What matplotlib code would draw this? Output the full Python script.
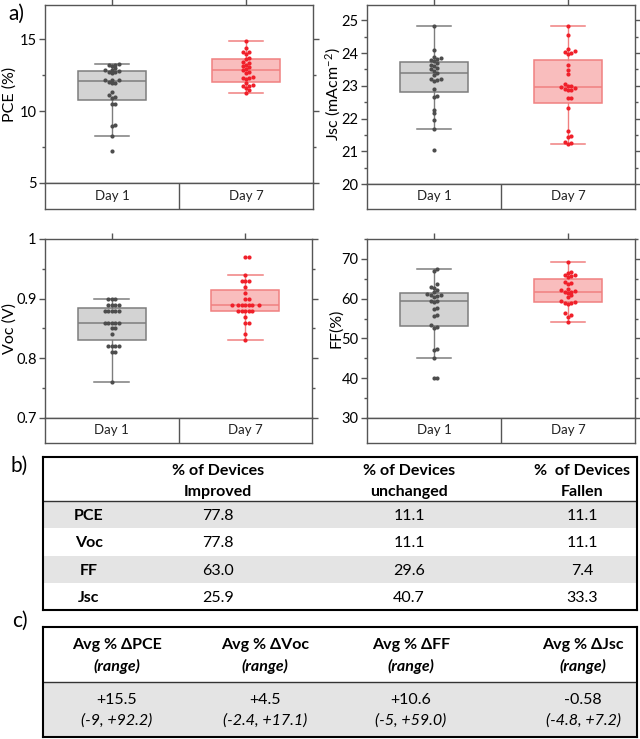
import numpy as np
import matplotlib
matplotlib.use("Agg")
import matplotlib.pyplot as plt
from matplotlib.ticker import MultipleLocator, FuncFormatter

plt.rcParams['font.family'] = ['Lato', 'DejaVu Sans']
plt.rcParams['mathtext.default'] = 'regular'

# ---- data ----
days = ["Day 1", "Day 7"]

pce_day1 = [13.3, 13.25, 13.2, 13.15, 13.0, 12.9, 12.85, 12.8, 12.75, 12.7, 12.65, 12.2, 12.2, 12.15,
            12.05, 12.0, 11.95, 11.35, 11.1, 11.0, 10.95, 10.5, 10.5, 9.05, 8.95, 8.3, 7.25]
pce_day7 = [14.88, 14.4, 14.15, 14.1, 14.0, 13.7, 13.65, 13.4, 13.35, 13.2, 13.15, 13.05, 12.95, 12.85,
            12.75, 12.65, 12.35, 12.3, 12.3, 12.25, 11.95, 11.8, 11.75, 11.75, 11.6, 11.5, 11.28]
jsc_day1 = [21.04, 21.67, 21.96, 22.16, 22.27, 22.67, 22.7, 22.9, 23.15, 23.18, 23.2, 23.22, 23.32, 23.4,
            23.46, 23.5, 23.54, 23.6, 23.64, 23.7, 23.75, 23.78, 23.82, 23.85, 23.87, 24.08, 24.84]
jsc_day7 = [21.21, 21.24, 21.28, 21.43, 21.47, 21.63, 22.32, 22.62, 22.62, 22.86, 22.88, 22.9, 22.92, 22.95,
            22.98, 23.0, 23.05, 23.37, 23.49, 23.64, 23.97, 24.0, 24.02, 24.05, 24.12, 24.54, 24.84]
voc_day1 = [0.76, 0.81, 0.81, 0.82, 0.82, 0.82, 0.82, 0.84, 0.85, 0.85, 0.86, 0.86, 0.86, 0.86,
            0.86, 0.88, 0.88, 0.88, 0.88, 0.88, 0.89, 0.89, 0.89, 0.89, 0.90, 0.90, 0.90]
voc_day7 = [0.83, 0.84, 0.86, 0.86, 0.87, 0.88, 0.88, 0.88, 0.88, 0.88, 0.89, 0.89, 0.89, 0.89,
            0.89, 0.89, 0.89, 0.90, 0.90, 0.91, 0.92, 0.93, 0.93, 0.93, 0.94, 0.97, 0.97]
ff_day1 = [40.0, 40.1, 45.0, 47.1, 47.4, 52.7, 52.9, 53.4, 55.7, 55.8, 57.5, 57.7, 59.1, 59.3,
           59.4, 60.5, 60.7, 60.9, 61.0, 61.2, 61.8, 62.2, 62.8, 63.0, 63.6, 67.0, 67.4]
ff_day7 = [54.1, 55.5, 56.0, 56.3, 58.6, 58.9, 59.0, 59.2, 59.4, 60.5, 60.9, 61.4, 61.6, 61.8,
           61.9, 62.1, 62.4, 63.6, 64.0, 64.3, 65.5, 65.6, 66.0, 66.0, 66.4, 66.6, 69.1]

# box statistics (whisker low, Q1, median, Q3, whisker high) per day
pce_box = [(8.3, 10.77, 12.09, 12.79, 13.28), (11.28, 12.07, 12.84, 13.67, 14.88)]
jsc_box = [(21.68, 22.8, 23.39, 23.73, 24.84), (21.22, 22.47, 22.95, 23.8, 24.84)]
voc_box = [(0.76, 0.83, 0.86, 0.885, 0.90), (0.83, 0.88, 0.89, 0.915, 0.94)]
ff_box = [(45.0, 53.15, 59.35, 61.45, 67.4), (54.1, 59.1, 61.8, 64.9, 69.1)]

# table b
params = ["PCE", "Voc", "FF", "Jsc"]
b_headers = [("% of Devices", "Improved"), ("% of Devices", "unchanged"), ("%  of Devices", "Fallen")]
improved = [77.8, 77.8, 63.0, 25.9]
unchanged = [11.1, 11.1, 29.6, 40.7]
fallen = [11.1, 11.1, 7.4, 33.3]

# table c
c_headers = ["Avg % \u0394PCE", "Avg % \u0394Voc", "Avg % \u0394FF", "Avg % \u0394Jsc"]
avg_change = [15.5, 4.5, 10.6, -0.58]
change_range = ["(-9, +92.2)", "(-2.4, +17.1)", "(-5, +59.0)", "(-4.8, +7.2)"]

# ---- styling ----
W, H = 640, 739
fig = plt.figure(figsize=(W / 100, H / 100), dpi=100)
spine_c = '#555555'
fills = ['#d3d3d3', '#f9bdbd']
edges = ['#7d7d7d', '#f08080']
pts_c = ['#4d4d4d', '#f0202a']


def px_axes(x0, y0, x1, y1):
    return fig.add_axes([x0 / W, 1 - y1 / H, (x1 - x0) / W, (y1 - y0) / H])


def swarm(values, ppu_y, ppu_x, d=3.4):
    placed = []
    offs = []
    for v in sorted(values):
        y = v * ppu_y
        k = 0
        found = None
        while found is None:
            cands = [0.0] if k == 0 else [k * d, -k * d]
            for c in cands:
                if all((c - px) ** 2 + (y - py) ** 2 >= d * d for px, py in placed):
                    found = c
                    break
            k += 1
        placed.append((found, y))
        offs.append(found / ppu_x)
    return np.array(sorted(values)), np.array(offs)


panels = [
    ("PCE (%)", [pce_day1, pce_day7], pce_box, (5, 17.4), 5, 2.5, (45, 5, 313, 183, 209), -0.105),
    ("Jsc (mAcm$^{-2}$)", [jsc_day1, jsc_day7], jsc_box, (20, 25.47), 1, 0.5, (367, 5, 635, 184, 209), -0.09),
    ("Voc (V)", [voc_day1, voc_day7], voc_box, (0.7, 1.0), 0.1, 0.05, (45, 239, 312, 418, 443), -0.105),
    ("FF(%)", [ff_day1, ff_day7], ff_box, (30, 75), 10, 5, (367, 239, 635, 418, 443), -0.09),
]

for label, groups, boxes, ylim, major, minor, (x0, y0, x1, y1, yr), lab_x in panels:
    ax = px_axes(x0, y0, x1, y1)
    ax.set_xlim(0.5, 2.5)
    ax.set_ylim(*ylim)
    ppu_y = (y1 - y0) / (ylim[1] - ylim[0])
    ppu_x = (x1 - x0) / 2.0
    for i, (vals, b) in enumerate(zip(groups, boxes)):
        st = [dict(whislo=b[0], q1=b[1], med=b[2], q3=b[3], whishi=b[4], fliers=[])]
        ax.bxp(st, positions=[i + 1], widths=0.51, capwidths=0.26, patch_artist=True,
               showfliers=False,
               boxprops=dict(facecolor=fills[i], edgecolor=edges[i], linewidth=1.1),
               medianprops=dict(color=edges[i], linewidth=1.1),
               whiskerprops=dict(color=edges[i], linewidth=1.0),
               capprops=dict(color=edges[i], linewidth=1.1), zorder=2)
        yv, xo = swarm(vals, ppu_y, ppu_x)
        ax.plot(i + 1 + xo, yv, 'o', ms=3.0, color=pts_c[i], mec='none', zorder=3)
    ax.yaxis.set_major_locator(MultipleLocator(major))
    ax.yaxis.set_minor_locator(MultipleLocator(minor))
    ax.yaxis.set_major_formatter(FuncFormatter(lambda v, p: f"{v:g}"))
    ax.set_xticks([1, 2])
    ax.tick_params(axis='x', which='both', bottom=False, labelbottom=False, top=True,
                   direction='out', length=4, color=spine_c, width=1)
    ax.tick_params(axis='y', which='major', left=True, right=True, direction='out', length=4,
                   color=spine_c, width=1, labelsize=10.5, pad=2)
    ax.tick_params(axis='y', which='minor', left=True, right=True, direction='out', length=2.5,
                   color=spine_c, width=1)
    for s in ax.spines.values():
        s.set_color(spine_c)
        s.set_linewidth(1)
    ax.set_ylabel(label, fontsize=11.5)
    ax.yaxis.set_label_coords(lab_x, 0.5)

    # category row under the plot
    row = px_axes(x0, y1, x1, yr)
    row.set_xlim(0.5, 2.5)
    row.set_ylim(0, 1)
    row.set_xticks([])
    row.set_yticks([])
    for s in row.spines.values():
        s.set_color(spine_c)
        s.set_linewidth(1)
    row.axvline(1.5, color=spine_c, lw=1)
    for i, d in enumerate(days):
        row.text(i + 1, 0.5, d, ha='center', va='center', fontsize=9.5, color='#222222')

# ---- table b ----
tb = px_axes(43, 457, 637, 610)
tb.set_xlim(43, 637)
tb.set_ylim(610, 457)
tb.set_xticks([])
tb.set_yticks([])
for s in tb.spines.values():
    s.set_color('black')
    s.set_linewidth(1.5)
row_h = (610 - 501) / 4
col_x = [89, 218, 409, 582]
for j, (h1, h2) in enumerate(b_headers):
    tb.text(col_x[j + 1], 471, h1, ha='center', va='center', fontsize=11.5, weight='bold')
    tb.text(col_x[j + 1], 492, h2, ha='center', va='center', fontsize=11.5, weight='bold')
tb.axhline(501, color='#333333', lw=1.0)
for r, name in enumerate(params):
    top = 501 + r * row_h
    if r % 2 == 0:
        tb.axhspan(top, top + row_h, color='#e4e4e4', lw=0, zorder=0)
    yc = top + row_h / 2 + 1.5
    tb.text(col_x[0], yc, name, ha='center', va='center', fontsize=11.5, weight='bold')
    for j, series in enumerate([improved, unchanged, fallen]):
        tb.text(col_x[j + 1], yc, f"{series[r]:.1f}", ha='center', va='center', fontsize=11.5)

# ---- table c ----
tc = px_axes(43, 627, 637, 737)
tc.set_xlim(43, 637)
tc.set_ylim(737, 627)
tc.set_xticks([])
tc.set_yticks([])
for s in tc.spines.values():
    s.set_color('black')
    s.set_linewidth(1.5)
tc.axhspan(682, 737, color='#e4e4e4', lw=0, zorder=0)
tc.axhline(682, color='#333333', lw=1.0)
ccol_x = [117, 265, 411, 583]
for j in range(4):
    tc.text(ccol_x[j], 645, c_headers[j], ha='center', va='center', fontsize=11.5, weight='bold')
    tc.text(ccol_x[j], 666, "(range)", ha='center', va='center', fontsize=11.5, weight='bold', style='italic')
    tc.text(ccol_x[j], 700, f"{avg_change[j]:+g}", ha='center', va='center', fontsize=11.5)
    tc.text(ccol_x[j], 721, change_range[j], ha='center', va='center', fontsize=11.5, style='italic')

# panel labels
fig.text(16 / W, 1 - 14 / H, "a)", ha='center', va='center', fontsize=15)
fig.text(19 / W, 1 - 466 / H, "b)", ha='center', va='center', fontsize=15)
fig.text(20 / W, 1 - 621 / H, "c)", ha='center', va='center', fontsize=15)

fig.savefig("out.png", dpi=100)
